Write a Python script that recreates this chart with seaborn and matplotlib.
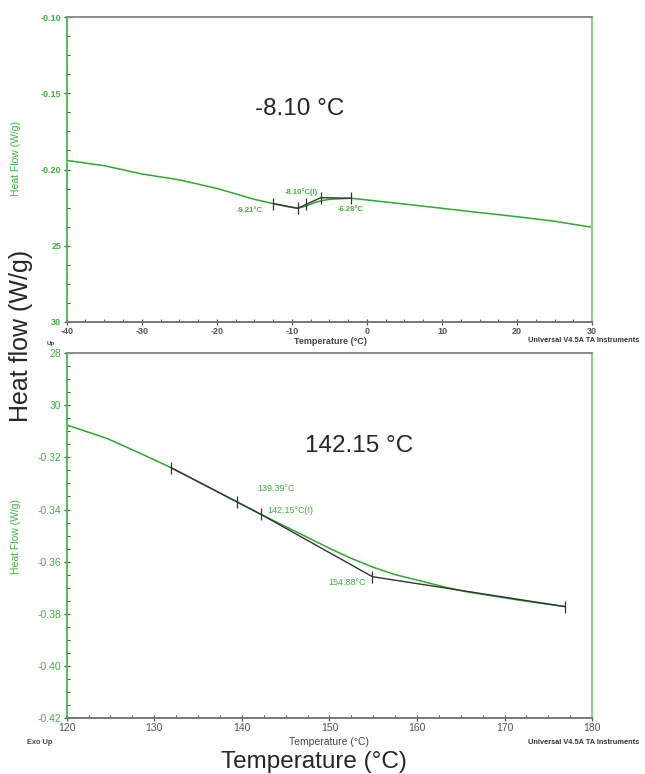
import numpy as np
import pandas as pd
import seaborn as sns
import matplotlib.pyplot as plt
from matplotlib.ticker import MultipleLocator

# ---- top run: glass transition near -8 C ----
top_temp = [-40, -35, -30, -25, -20, -17.5, -15, -12.5, -10.5, -9.2, -8.1, -7, -6, -5, -3, -2.1,
            0, 5, 10, 15, 20, 25, 30]
top_flow = [-0.194, -0.1975, -0.2029, -0.2068, -0.2124, -0.2160, -0.2196, -0.2224, -0.2245,
            -0.2255, -0.2240, -0.2218, -0.2204, -0.2196, -0.2191, -0.2189,
            -0.2200, -0.2227, -0.2255, -0.2283, -0.2310, -0.2340, -0.2380]
top_base_temp = [-12.46, -9.2, -8.1, -6.13, -2.13]
top_base_flow = [-0.2224, -0.2255, -0.2229, -0.2185, -0.2189]
top_yticks = [-0.10, -0.15, -0.20, -0.25, -0.30]
top_ylabels = ['-0.10', '-0.15', '-0.20', '25', '30']
top_xticks = [-40, -30, -20, -10, 0, 10, 20, 30]

# ---- bottom run: transition near 142 C ----
bot_temp = [120, 124.6, 128, 131.9, 135, 139.4, 142.2, 146.6, 150, 152.5, 155, 157.5, 160,
            163.2, 165.5, 168.4, 172, 176.9]
bot_flow = [-0.3075, -0.3127, -0.3178, -0.3239, -0.3293, -0.3370, -0.3419, -0.3492,
            -0.3549, -0.3588, -0.3622, -0.3650, -0.3671, -0.3698, -0.3715, -0.3731,
            -0.3750, -0.3773]
bot_base_temp = [131.9, 139.4, 142.2, 154.9, 176.9]
bot_base_flow = [-0.3239, -0.3370, -0.3419, -0.3658, -0.3773]
bot_yticks = [-0.28, -0.30, -0.32, -0.34, -0.36, -0.38, -0.40, -0.42]
bot_ylabels = ['28', '30', '-0.32', '-0.34', '-0.36', '-0.38', '-0.40', '-0.42']
bot_xticks = [120, 130, 140, 150, 160, 170, 180]

GREEN = '#2fa82f'
TXTGREEN = '#3cb43c'
BLACK = '#333333'

sns.set_style('white')
plt.rcParams['font.family'] = ['Liberation Sans', 'DejaVu Sans']
plt.rcParams['axes.unicode_minus'] = False

fig = plt.figure(figsize=(6.45, 7.74), dpi=100)
ax1 = fig.add_axes([0.1034, 0.5844, 0.8146, 0.3932])
ax2 = fig.add_axes([0.1034, 0.0727, 0.8146, 0.4708])


def draw_panel(ax, temp, flow, btemp, bflow):
    curve = pd.DataFrame({'t': temp, 'f': flow})
    base = pd.DataFrame({'t': btemp, 'f': bflow})
    sns.lineplot(data=curve, x='t', y='f', ax=ax, color=GREEN, lw=1.1,
                 sort=False, estimator=None)
    sns.lineplot(data=base, x='t', y='f', ax=ax, color=BLACK, lw=1.0,
                 sort=False, estimator=None)
    ax.scatter(btemp, bflow, marker='|', s=70, color=BLACK, linewidths=0.9, zorder=5)


def style_panel(ax, xlim, ylim, xticks, yticks, ylabels, xminor, yminor, bold):
    ax.set_xlim(*xlim)
    ax.set_ylim(*ylim)
    ax.set_xticks(xticks)
    ax.set_xticklabels([str(v) for v in xticks])
    ax.set_yticks(yticks)
    ax.set_yticklabels(ylabels)
    ax.xaxis.set_minor_locator(MultipleLocator(xminor))
    ax.yaxis.set_minor_locator(MultipleLocator(yminor))
    ax.set_xlabel('')
    ax.set_ylabel('')
    ax.spines['left'].set_color('#44bb44')
    ax.spines['left'].set_linewidth(1.3)
    ax.spines['right'].set_color('#8fd08f')
    ax.spines['right'].set_linewidth(1.6)
    ax.spines['top'].set_color('#8a8a8a')
    ax.spines['top'].set_linewidth(1.4)
    ax.spines['bottom'].set_color('#777777')
    ax.spines['bottom'].set_linewidth(1.4)
    ax.tick_params(axis='both', which='major', direction='inout', length=5,
                   width=0.9, color='#555555', pad=1.5)
    ax.tick_params(axis='both', which='minor', direction='in', length=2.5,
                   width=0.8, color='#555555')
    ax.tick_params(axis='y', which='both', left=True, right=False)
    ax.tick_params(axis='x', which='both', bottom=True, top=False)
    wt = 'bold' if bold else 'normal'
    fs = 6.5 if bold else 7.5
    for lab in ax.get_yticklabels():
        lab.set_color(TXTGREEN)
        lab.set_fontsize(fs)
        lab.set_fontweight(wt)
    for lab in ax.get_xticklabels():
        lab.set_color('#555555')
        lab.set_fontsize(fs)
        lab.set_fontweight(wt)


draw_panel(ax1, top_temp, top_flow, top_base_temp, top_base_flow)
style_panel(ax1, (-40, 30), (-0.30, -0.10), top_xticks, top_yticks, top_ylabels,
            2.5, 0.0125, True)
draw_panel(ax2, bot_temp, bot_flow, bot_base_temp, bot_base_flow)
style_panel(ax2, (120, 180), (-0.42, -0.28), bot_xticks, bot_yticks, bot_ylabels,
            2.5, 0.005, False)

# annotations inside the panels
ax1.text(-15.6, -0.2270, '-9.21°C', color=TXTGREEN, fontsize=5.5, fontweight='bold',
         ha='center', va='center')
ax1.text(-8.7, -0.2146, '-8.10°C(I)', color=TXTGREEN, fontsize=5.5, fontweight='bold',
         ha='center', va='center')
ax1.text(-2.15, -0.2266, '-6.28°C', color=TXTGREEN, fontsize=5.5, fontweight='bold',
         ha='center', va='center')
ax2.text(143.9, -0.3319, '139.39°C', color=TXTGREEN, fontsize=6.5, ha='center', va='center')
ax2.text(145.5, -0.3402, '142.15°C(I)', color=TXTGREEN, fontsize=6.5, ha='center', va='center')
ax2.text(152.0, -0.3680, '154.88°C', color=TXTGREEN, fontsize=6.5, ha='center', va='center')

# big labels
fig.text(300 / 645, 1 - 109 / 774, '-8.10 °C', fontsize=17.5, ha='center', va='center')
fig.text(359 / 645, 1 - 446 / 774, '142.15 °C', fontsize=17.5, ha='center', va='center')
fig.text(21 / 645, 1 - 336 / 774, 'Heat flow (W/g)', fontsize=18, rotation=90,
         ha='center', va='center')
fig.text(314 / 645, 1 - 762 / 774, 'Temperature (°C)', fontsize=17.5, ha='center', va='center')

# small instrument labels
fig.text(16 / 645, 1 - 158 / 774, 'Heat Flow (W/g)', fontsize=7.5, color=TXTGREEN,
         rotation=90, ha='center', va='center')
fig.text(16 / 645, 1 - 537 / 774, 'Heat Flow (W/g)', fontsize=7.5, color=TXTGREEN,
         rotation=90, ha='center', va='center')
fig.text(330 / 645, 1 - 341 / 774, 'Temperature (°C)', fontsize=6.5, fontweight='bold',
         color='#444444', ha='center', va='center')
fig.text(329 / 645, 1 - 742 / 774, 'Temperature (°C)', fontsize=7.5, color='#444444',
         ha='center', va='center')
fig.text(528 / 645, 1 - 341 / 774, 'Universal V4.5A TA Instruments', fontsize=5.3,
         fontweight='bold', color='#333333', ha='left', va='center')
fig.text(528 / 645, 1 - 743 / 774, 'Universal V4.5A TA Instruments', fontsize=5.3,
         fontweight='bold', color='#333333', ha='left', va='center')
fig.text(27 / 645, 1 - 743 / 774, 'Exo Up', fontsize=5.3, fontweight='bold',
         color='#444444', ha='left', va='center')
fig.text(47 / 645, 1 - 343 / 774, 'Up', fontsize=4.5, fontweight='bold',
         color='#444444', ha='left', va='center')

fig.savefig('out.png', dpi=100)
plt.close(fig)
